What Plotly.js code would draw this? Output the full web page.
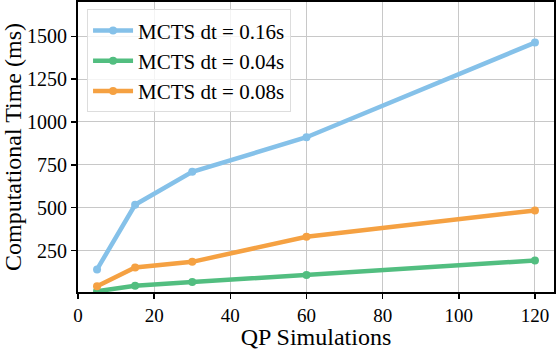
<!DOCTYPE html>
<html><head><meta charset="utf-8">
<script src="https://cdn.plot.ly/plotly-3.0.1.min.js"></script>
<style>body{margin:0;padding:0;}#c{width:556px;height:350px;}</style>
</head><body><div id="c"></div>
<script>
const xSims = [5, 15, 30, 60, 120];
const dt016 = [140, 517, 709, 911, 1463];
const dt004 = [12, 45, 66, 107, 192];
const dt008 = [42, 151, 184, 330, 484];
const names = ["MCTS dt = 0.16s", "MCTS dt = 0.04s", "MCTS dt = 0.08s"];
const colors = ["#85c1e9", "#52be80", "#f5a142"];
const xTicks = [0, 20, 40, 60, 80, 100, 120];
const yTicks = [250, 500, 750, 1000, 1250, 1500];

const series = [dt016, dt004, dt008];
const traces = series.map((ys, i) => ({
  x: xSims, y: ys, name: names[i], type: "scatter", mode: "lines+markers",
  line: {color: colors[i], width: 4.5}, marker: {color: colors[i], size: 8}
}));

const font = {family: "Liberation Serif, Times New Roman, serif", color: "#000"};
Plotly.newPlot("c", traces, {
  width: 556, height: 350,
  margin: {l: 78, r: 2, t: 2, b: 58},
  paper_bgcolor: "#fff", plot_bgcolor: "#fff",
  font: Object.assign({size: 20}, font),
  showlegend: true,
  legend: {x: 0.019, y: 0.975, xanchor: "left", yanchor: "top",
    bgcolor: "rgba(255,255,255,0.8)", bordercolor: "#dddddd", borderwidth: 1,
    font: Object.assign({size: 21}, font), tracegroupgap: 0, itemwidth: 40},
  xaxis: {range: [0, 125], tickvals: xTicks, ticktext: xTicks.map(String),
    showgrid: true, gridcolor: "#c8c8c8", gridwidth: 1, zeroline: false,
    showline: true, linecolor: "#000", linewidth: 2, mirror: true,
    ticks: "outside", ticklen: 5, tickwidth: 1.5, tickcolor: "#000",
    tickfont: Object.assign({size: 19}, font), automargin: false,
    title: {text: "QP Simulations", font: Object.assign({size: 24}, font)}},
  yaxis: {range: [8, 1700], tickvals: yTicks, ticktext: yTicks.map(String),
    showgrid: true, gridcolor: "#c8c8c8", gridwidth: 1, zeroline: false,
    showline: true, linecolor: "#000", linewidth: 2, mirror: true,
    ticks: "outside", ticklen: 5, tickwidth: 1.5, tickcolor: "#000",
    tickfont: Object.assign({size: 20}, font),
    title: {text: "Computational Time (ms)", font: Object.assign({size: 24}, font), standoff: 4}}
}, {displayModeBar: false, staticPlot: true});
</script></body></html>
